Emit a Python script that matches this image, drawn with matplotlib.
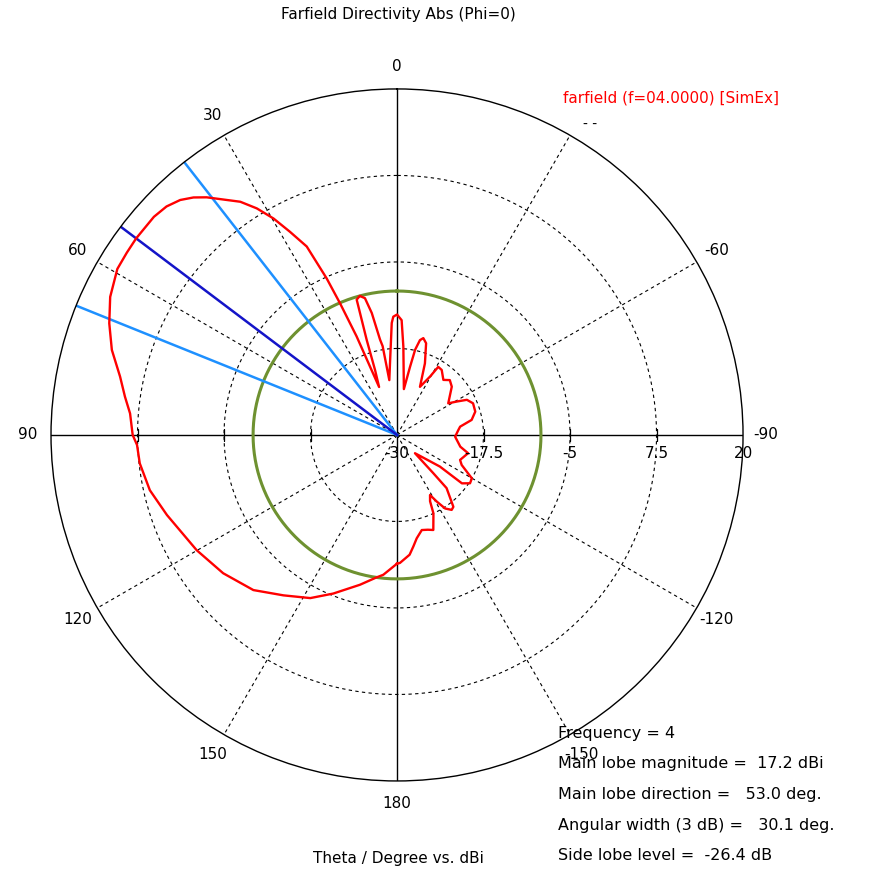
import numpy as np
import matplotlib.pyplot as plt

# farfield cut, phi = 0
theta_deg = [-180, -178.7, -174, -171.7, -169.2, -165.4, -162, -159.1, -155.1, -153.5,
             -151.2, -149.2, -146.8, -143.9, -141.9, -137, -136.5, -135.5, -126.4, -126.7,
             -123.5, -120.1, -114.9, -111.6, -104.4, -100.5, -91.7, -85.3, -82.5, -78.6,
             -73.4, -67.4, -63.3, -60.8, -58.3, -48.6, -43.9, -40.1, -34.5, -31.2,
             -29.5, -25.5, -21.3, -17.6, -15.2, -13.6, -12.0, -10.8, -8.5, -4.1,
             -2.3, 0, 1.8, 2.7, 5.6, 8.0, 9.2, 10.1, 11.7, 13.2,
             15.0, 16.6, 17.7, 18.7, 20.5, 22.3, 23.4, 24.2, 25.6, 27.8,
             29.7, 31.75, 33.9, 38.7, 40.6, 42.7, 45.25, 48.1, 53.0, 56.0,
             59.3, 64.3, 68.8, 73.4, 78.1, 82.0, 85.4, 90, 92.2, 96.3,
             102.6, 109.2, 119.9, 128.5, 137.2, 144.7, 152.0, 158.1, 166.1, 171.8,
             174.4, 180]
dbi = [-11.4, -11.5, -12.6, -13.7, -14.8, -15.8, -15.6, -15.3, -17.5, -19.3,
       -20.1, -18.8, -17.3, -16.6, -16.8, -19.5, -22.4, -26.3, -22.3, -18.3,
       -17.35, -17.5, -19.7, -20.2, -19.4, -20.7, -21.6, -21.1, -20.8, -19.0,
       -18.2, -18.1, -18.7, -20.1, -21.3, -19.45, -19.0, -19.6, -18.6, -18.5,
       -20.3, -22.3, -18.9, -16.1, -15.5, -15.9, -17.4, -20.0, -23.3, -17.2,
       -13.4, -12.6, -12.9, -13.8, -19.6, -22.0, -17.0, -16.0, -12.0, -9.7,
       -9.2, -9.6, -15.6, -20.1, -22.6, -14.6, -9.3, -5.2, 0.2, 3.2,
       6.0, 8.5, 10.6, 14.0, 15.2, 16.2, 16.9, 17.2, 17.2, 17.1,
       17.0, 16.0, 14.6, 13.0, 10.9, 9.7, 8.7, 8.2, 7.6, 7.4,
       6.6, 5.2, 3.4, 2.1, 0.55, -1.6, -3.3, -5.3, -7.7, -9.2,
       -9.7, -11.4]

freq = 4
main_mag = 17.2
main_dir = 53.0
ang_width = 30.1
sll = -26.4

r_min, r_max = -30, 20
r_ticks = [-30, -17.5, -5, 7.5, 20]
ang_ticks = [0, 30, 60, 90, 120, 150, 180, -150, -120, -90, -60]

plt.rcParams['font.family'] = 'DejaVu Sans'

fig = plt.figure(figsize=(8.72, 8.72), dpi=100)
ax = fig.add_axes([0.0585, 0.1044, 0.7936, 0.7936], projection='polar')
ax.set_theta_zero_location('N')
ax.set_theta_direction(1)
ax.set_rlim(r_min, r_max)
ax.grid(False)
ax.set_xticks([])
ax.set_yticks([])
ax.spines['polar'].set_linewidth(1.0)

dash = (0, (3, 3))
circ = np.linspace(0, 2*np.pi, 721)

# dotted rings and spokes
for r in r_ticks[1:-1]:
    ax.plot(circ, np.full_like(circ, r), ls=dash, lw=0.8, color='k')
for a in ang_ticks + [-30]:
    t = np.deg2rad(a)
    if a % 90 == 0:
        ax.plot([t, t], [r_min, r_max], lw=1.0, color='k')
    else:
        ax.plot([t, t], [r_min, r_max], ls=dash, lw=0.8, color='k')

# small ticks on the horizontal axis
for r in r_ticks[1:-1]:
    for a in [90, -90]:
        ax.plot(np.deg2rad(a), r, marker='|', ms=8, mew=0.9, color='k')

# angle labels
for a in ang_ticks:
    ax.text(np.deg2rad(a), 23.3, str(a), ha='center', va='center', fontsize=11,
            clip_on=False)
# -30 label mostly hidden behind the legend
ax.annotate('- -', xy=(np.deg2rad(-30), 22.6), xytext=(8, -3), textcoords='offset points',
            ha='center', va='center', fontsize=10, annotation_clip=False)

# radial labels along -90
for r in r_ticks:
    ax.annotate('%g' % r, xy=(np.deg2rad(-90), r), xytext=(0, -8), textcoords='offset points',
                ha='center', va='top', fontsize=11)

# side lobe level circle
ax.plot(circ, np.full_like(circ, main_mag + sll), color='#6E9130', lw=2.2)

# main lobe direction and 3 dB width
for a, c in [(main_dir - ang_width/2, '#1E90FF'), (main_dir + ang_width/2, '#1E90FF'),
             (main_dir, '#1414C8')]:
    t = np.deg2rad(a)
    ax.plot([t, t], [r_min, r_max], color=c, lw=1.8)

ax.plot(np.deg2rad(theta_deg), dbi, color='red', lw=1.7)

fig.text(398/872, 1 - 15/872, 'Farfield Directivity Abs (Phi=0)', ha='center', va='center',
         fontsize=11)
fig.text(563/872, 1 - 98/872, 'farfield (f=04.0000) [SimEx]', color='red', ha='left',
         va='center', fontsize=11)
fig.text(398/872, 1 - 858/872, 'Theta / Degree vs. dBi', ha='center', va='center', fontsize=11)

info = ['Frequency = %g' % freq,
        'Main lobe magnitude =  %.1f dBi' % main_mag,
        'Main lobe direction =   %.1f deg.' % main_dir,
        'Angular width (3 dB) =   %.1f deg.' % ang_width,
        'Side lobe level =  %.1f dB' % sll]
for i, s in enumerate(info):
    fig.text(558/872, 1 - (733 + 30.7*i)/872, s, ha='left', va='center', fontsize=11.5)

fig.savefig('out.png', dpi=100)
